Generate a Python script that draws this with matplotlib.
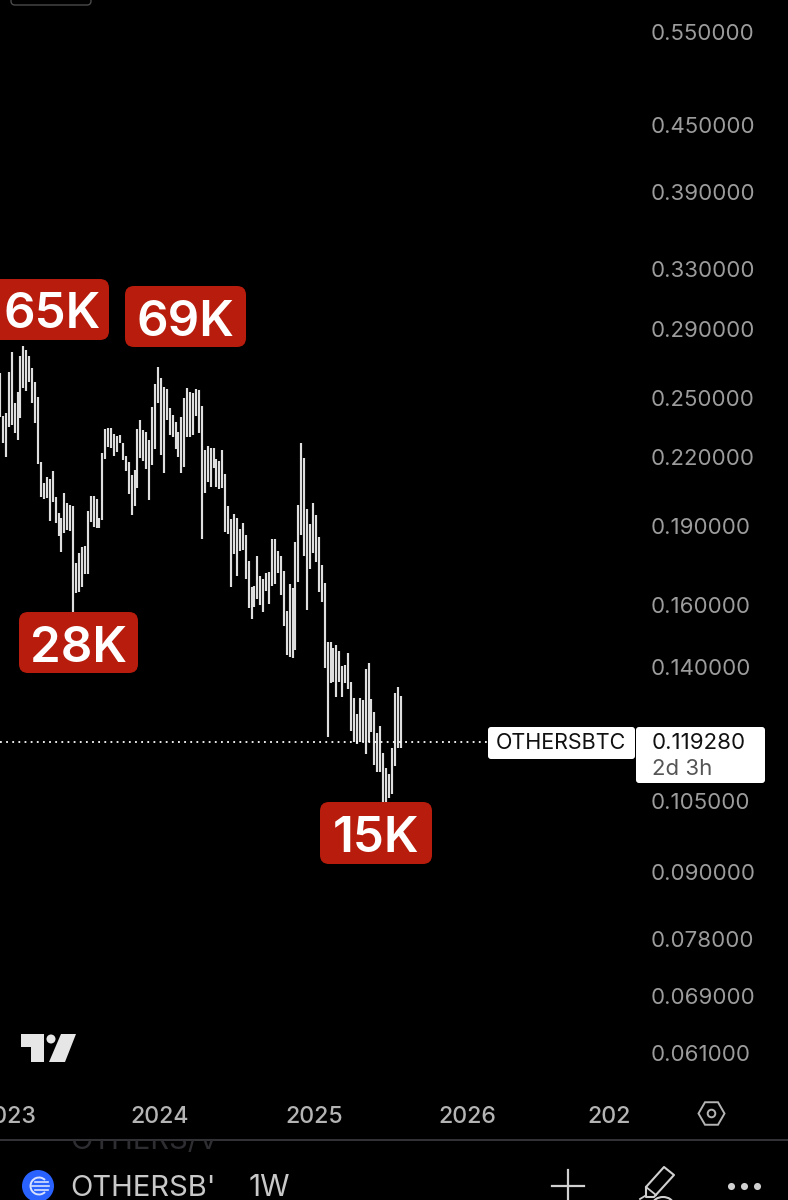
import matplotlib
matplotlib.use("Agg")
import matplotlib.pyplot as plt
from matplotlib.patches import FancyBboxPatch, Circle, Polygon, RegularPolygon, Rectangle, Arc
import math

plt.rcParams['font.family'] = ['Inter', 'DejaVu Sans']

# weekly high / low
highs = [.2637, .2406, .2421, .2645, .2761, .2474, .2533, .2737, .2797, .2773, .2737, .2668, .2588, .2506,
         .2179, .2082, .2109, .2100, .2136, .2020, .1951, .1930, .2038, .1994, .1985, .1981, .1753, .1791,
         .1814, .1818, .1960, .2025, .2025, .2011, .1930, .2221, .2339, .2344, .2344, .2314, .2304, .2309,
         .2269, .2207, .2179, .2118, .2141, .2339, .2385, .2334, .2324, .2284, .2453, .2577, .2673, .2610,
         .2560, .2549, .2447, .2411, .2375, .2324, .2401, .2501, .2555, .2533, .2528, .2549, .2544, .2458,
         .2235, .2255, .2245, .2245, .2193, .2183, .2235, .2123, .1981, .1926, .1947, .1930, .1885, .1910,
         .1861, .1760, .1664, .1667, .1779, .1704, .1693, .1715, .1719, .1845, .1845, .1798, .1779, .1722,
         .1580, .1675, .1660, .1833, .1985, .2269, .2197, .1968, .1906, .1994, .1943, .1853, .1745, .1679,
         .1478, .1478, .1459, .1468, .1450, .1404, .1407, .1444, .1356, .1310, .1265, .1310, .1304, .1395,
         .1413, .1307, .1271, .1215, .1233, .1164, .1127, .1112, .1176, .1325, .1342, .1316]
lows = [.2402, .2268, .2202, .2349, .2359, .2319, .2284, .2395, .2555, .2539, .2588, .2474, .2370, .2169,
        .2020, .2011, .2016, .1918, .1998, .1910, .1857, .1794, .1869, .1881, .1877, .1577, .1642, .1646,
        .1664, .1711, .1711, .1914, .1893, .1889, .1889, .1922, .2193, .2249, .2244, .2207, .2226, .2269,
        .2188, .2136, .2033, .1943, .1981, .2060, .2197, .2183, .2146, .2007, .2164, .2240, .2474, .2211,
        .2127, .2385, .2309, .2299, .2240, .2202, .2127, .2155, .2299, .2299, .2309, .2406, .2319, .1845,
        .2038, .2086, .2064, .2150, .2064, .2055, .2060, .1873, .1865, .1664, .1787, .1704, .1798, .1802,
        .1693, .1591, .1553, .1594, .1621, .1601, .1577, .1650, .1604, .1667, .1675, .1715, .1636, .1530,
        .1437, .1431, .1428, .1453, .1682, .1861, .1779, .1584, .1730, .1791, .1757, .1646, .1611, .1398,
        .1205, .1353, .1356, .1313, .1356, .1313, .1353, .1336, .1220, .1192, .1187, .1192, .1192, .1161,
        .1192, .1218, .1134, .1117, .1117, .1047, .1047, .1057, .1066, .1132, .1176, .1176]
last_price = 0.119280

price_ticks = [0.55, 0.45, 0.39, 0.33, 0.29, 0.25, 0.22, 0.19, 0.16, 0.14, 0.105, 0.09, 0.078, 0.069, 0.061]
year_labels = ['2023', '2024', '2025', '2026', '202']
year_pos = [2.6, 54.5, 107.4, 159.6, 208.2]

fig = plt.figure(figsize=(7.88, 12), dpi=100, facecolor='black')

# price panel: 640 px wide, 1100 px tall, log scale like the app
ax = fig.add_axes([0, 100 / 1200, 640 / 788, 1100 / 1200], facecolor='black')
ax.set_yscale('log')
ax.set_xlim(0, 218.8)
ax.set_ylim(0.05514, 0.5892)
ax.vlines(range(len(highs)), lows, highs, color='#dedede', lw=1.55)
ax.hlines(last_price, 0, 166.5, color='white', lw=1.3, linestyle=(0, (1, 2.4)))
ax.set_yticks(price_ticks)
ax.set_yticklabels(['%.6f' % p for p in price_ticks])
ax.minorticks_off()
ax.set_xticks(year_pos)
ax.set_xticklabels(year_labels)
ax.yaxis.tick_right()
ax.tick_params(axis='y', length=0, pad=8, labelsize=16, labelcolor='#9c9c9c')
ax.tick_params(axis='x', length=0, pad=4, labelsize=16.6, labelcolor='#b4b4b4')
for lab in ax.get_xticklabels():
    lab.set_fontweight('medium')
for s in ax.spines.values():
    s.set_visible(False)

# overlay in pixel coordinates for the app furniture
ui = fig.add_axes([0, 0, 1, 1], facecolor='none')
ui.set_xlim(0, 788)
ui.set_ylim(1200, 0)
ui.axis('off')

red = '#b71c0c'
callouts = [('65K', -20, 279, 109, 340, 52), ('69K', 125, 286, 246, 347, 185),
            ('28K', 19, 612, 138, 673, 79), ('15K', 320, 802, 432, 864, 376)]
for txt, x0, y0, x1, y1, cx in callouts:
    ui.add_patch(FancyBboxPatch((x0 + 9, y0 + 9), x1 - x0 - 18, y1 - y0 - 18,
                                boxstyle='round,pad=9,rounding_size=9', fc=red, ec='none'))
    ui.text(cx, (y0 + y1) / 2 + 6, txt, color='white', fontsize=35.5, fontweight='semibold', ha='center', va='center')

# top left leftover box
ui.add_patch(FancyBboxPatch((11, -20), 80, 25, boxstyle='round,pad=0,rounding_size=4', fc='none', ec='#4a4a4a', lw=1))

# last price tag
ui.add_patch(FancyBboxPatch((490, 729), 143, 28, boxstyle='round,pad=2,rounding_size=3', fc='white', ec='none'))
ui.add_patch(FancyBboxPatch((638, 729), 125, 52, boxstyle='round,pad=2,rounding_size=3', fc='white', ec='none'))
ui.text(561, 743, 'OTHERSBTC', color='#111111', fontsize=15.5, ha='center', va='center')
ui.text(652, 743, '0.119280', color='#111111', fontsize=16, ha='left', va='center')
ui.text(652, 769, '2d 3h', color='#555555', fontsize=16, ha='left', va='center')

# tradingview logo
ui.add_patch(Polygon([(21, 1034), (44, 1034), (44, 1062), (31, 1062), (31, 1047), (21, 1047)], fc='#e6e6e6', ec='none'))
ui.add_patch(Circle((51, 1039), 4.5, fc='#e6e6e6', ec='none'))
ui.add_patch(Polygon([(61, 1034), (76, 1034), (65, 1062), (49, 1062)], fc='#e6e6e6', ec='none'))

# settings hexagon
ui.add_patch(RegularPolygon((711.5, 1113.5), 6, radius=13, orientation=math.pi / 6, fc='none', ec='#b4b4b4', lw=1.4))
ui.add_patch(Circle((711.5, 1113.5), 3.8, fc='none', ec='#b4b4b4', lw=1.4))

# bottom bar
ui.plot([0, 788], [1139.5, 1139.5], color='#3c3c42', lw=1.2)
clip = Rectangle((0, 1140), 788, 60, transform=ui.transData)
t = ui.text(70, 1141, 'OTHERS/V', color='#2e2e32', fontsize=21, ha='left', va='center')
t.set_clip_on(True)
t.set_clip_path(clip)
ui.add_patch(Circle((38, 1186), 16, fc='#2962ff', ec='none'))
ui.add_patch(Arc((39, 1186), 17, 17, theta1=45, theta2=315, ec='#d8e2ff', lw=1.4))
ui.plot([35, 48], [1182, 1182], color='#d8e2ff', lw=1.2)
ui.plot([32, 49], [1186, 1186], color='#d8e2ff', lw=1.2)
ui.plot([35, 48], [1190, 1190], color='#d8e2ff', lw=1.2)
ui.text(70, 1188, "OTHERSB'", color='#c8c8c8', fontsize=21, ha='left', va='center')
ui.text(249, 1188, '1W', color='#c8c8c8', fontsize=21.5, ha='left', va='center')
ui.plot([552, 584], [1186, 1186], color='#d0d0d0', lw=1.6)
ui.plot([568, 568], [1170, 1200], color='#d0d0d0', lw=1.6)
ui.add_patch(Polygon([(664, 1167), (674, 1175), (654, 1197), (646, 1197), (646, 1187)], fc='none', ec='#d0d0d0', lw=1.5, joinstyle='round'))
ui.plot([646, 656], [1187, 1195], color='#d0d0d0', lw=1.3)
ui.plot([640, 645], [1199, 1196], color='#d0d0d0', lw=1.3)
ui.add_patch(Arc((663, 1204), 20, 14, theta1=180, theta2=360, ec='#d0d0d0', lw=1.5))
ui.scatter([731, 744, 757], [1186, 1186, 1186], s=26, color='#d0d0d0', linewidths=0)

fig.savefig('out.png', dpi=100, facecolor='black')
